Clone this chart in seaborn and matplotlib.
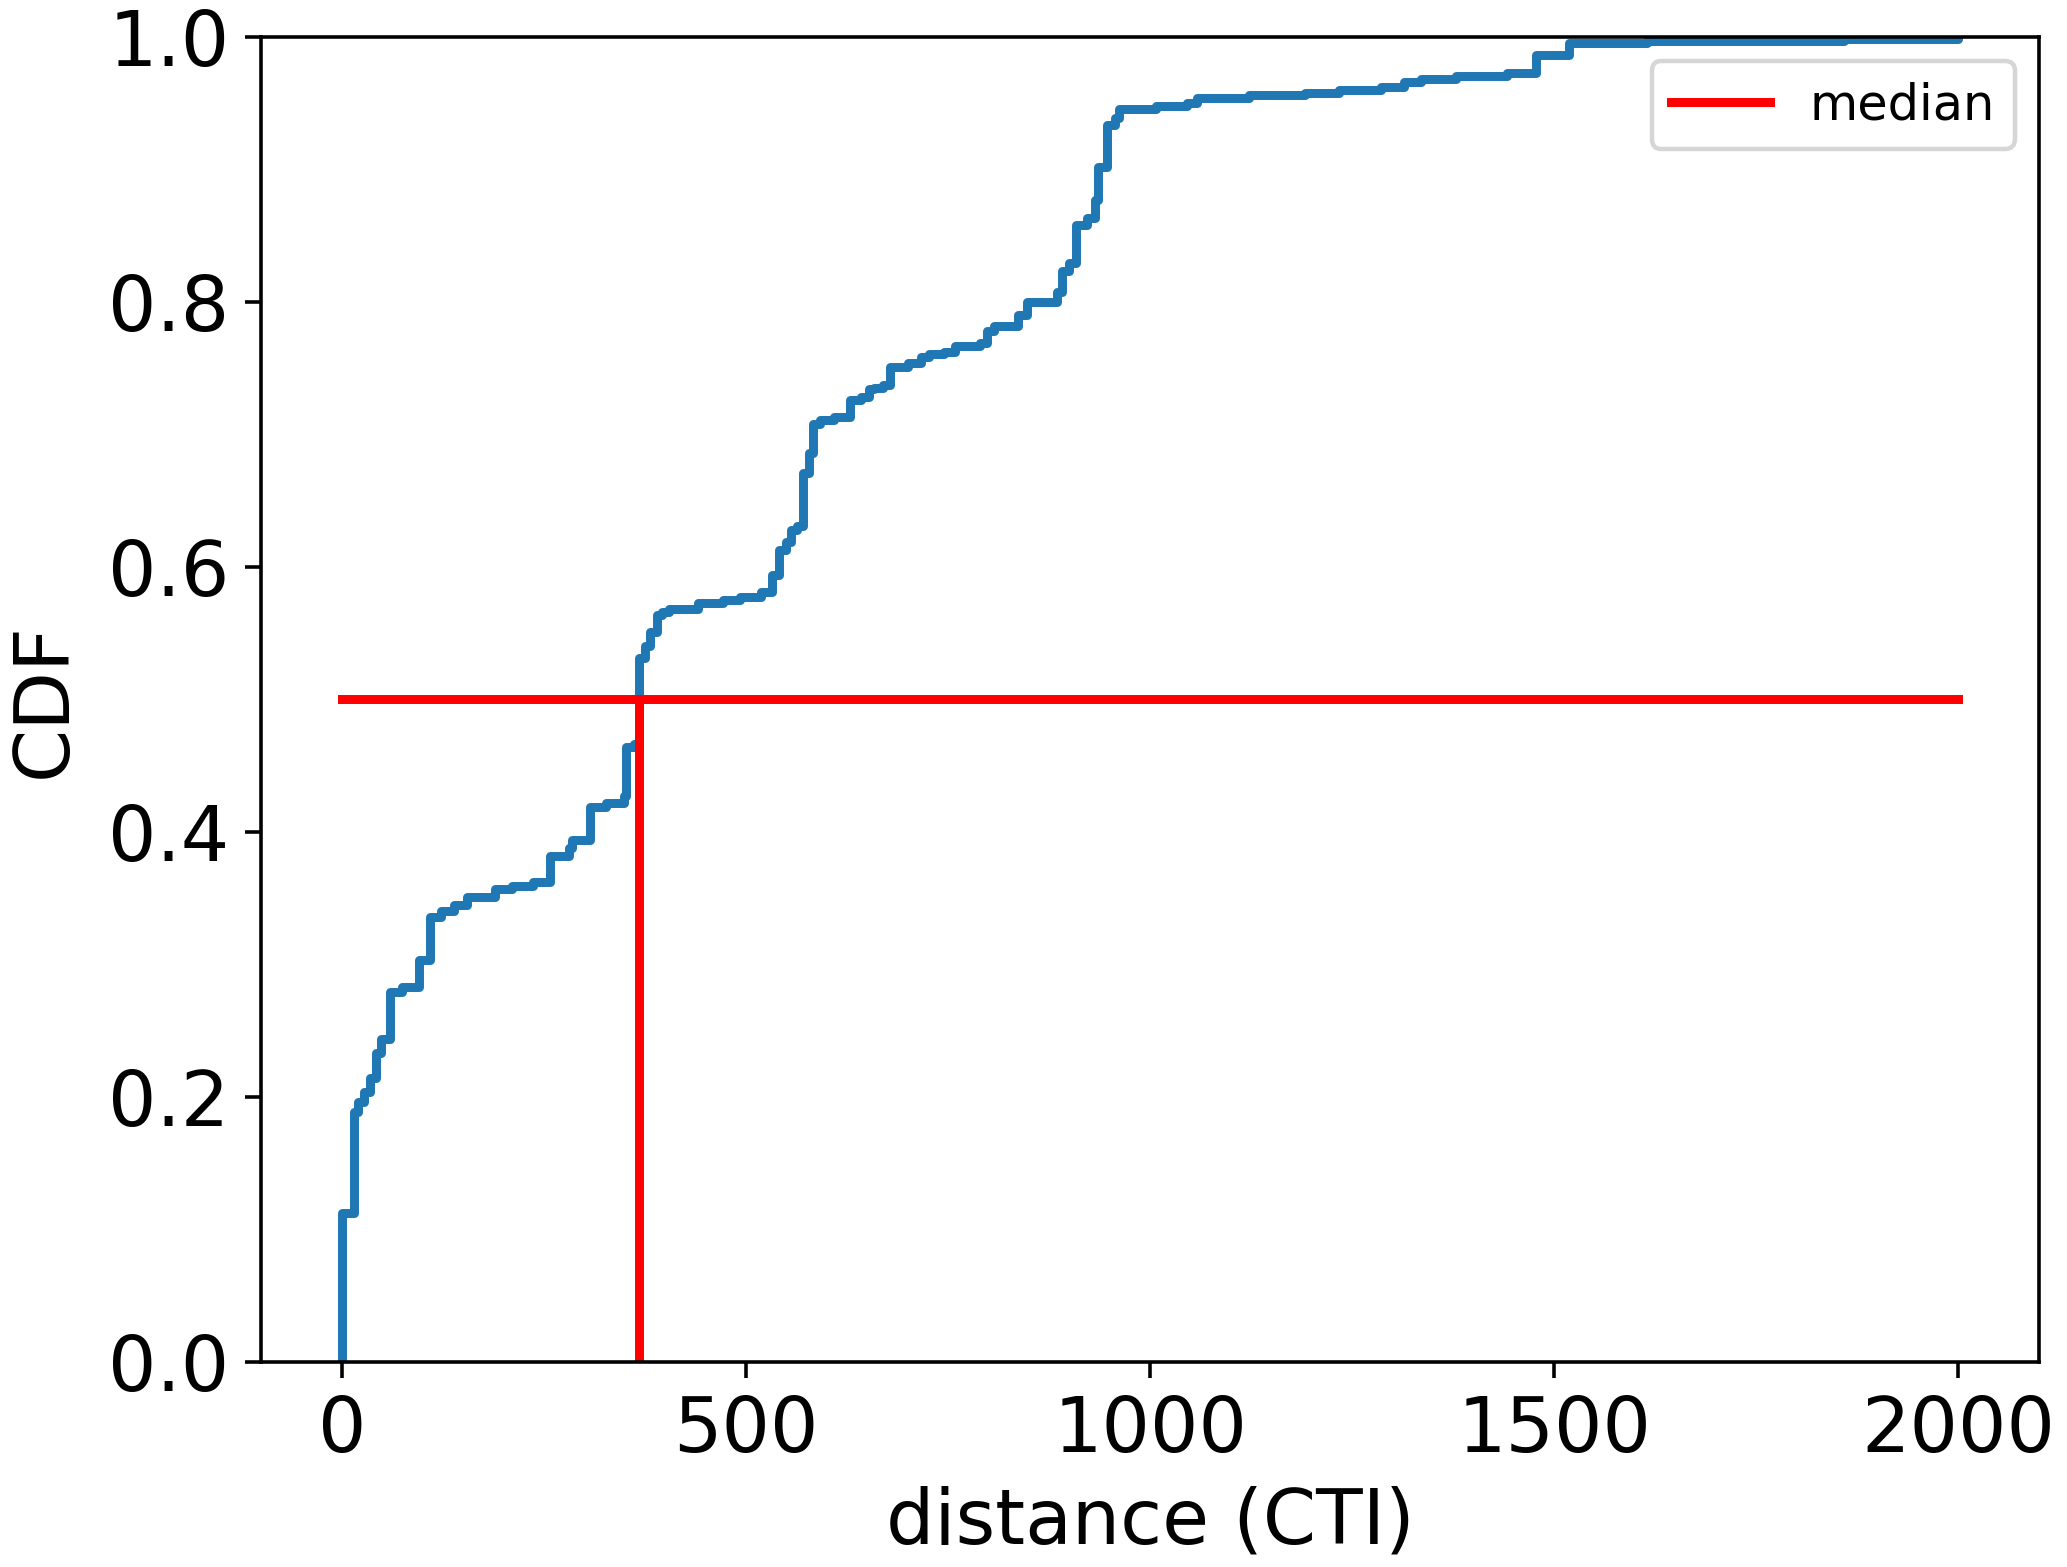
import numpy as np
import pandas as pd
import matplotlib
matplotlib.use('Agg')
import matplotlib.pyplot as plt
import seaborn as sns

# CDF breakpoints (distance in CTI, cdf after each step)
distance = [0, 0, 15.5, 19.6, 27, 35, 42.7, 48.5, 60, 74.5, 95, 109.5, 122, 139,
            155, 190, 210, 237, 258, 281, 285, 307, 327, 349, 352, 361, 367, 375,
            381, 390, 396, 405, 440, 472, 493, 518, 532, 541, 549, 555, 563, 570,
            578, 583, 592, 609, 628, 642, 652, 658, 670, 678, 700, 716, 726, 745,
            759, 790, 798, 807, 837, 847, 885, 891, 900, 908, 922, 932, 936, 946,
            957, 961, 1007, 1046, 1058, 1122, 1192, 1234, 1285, 1314, 1335, 1378,
            1441, 1477, 1518, 1615, 1858, 2000]
cdf = [0.0, 0.1125, 0.189, 0.196, 0.204, 0.214, 0.233, 0.244, 0.279, 0.283, 0.303,
       0.336, 0.340, 0.345, 0.351, 0.357, 0.359, 0.362, 0.382, 0.388, 0.394, 0.419,
       0.422, 0.427, 0.464, 0.466, 0.531, 0.540, 0.551, 0.5636, 0.566, 0.568, 0.573,
       0.575, 0.577, 0.581, 0.594, 0.6126, 0.619, 0.628, 0.631, 0.671, 0.686, 0.708,
       0.711, 0.713, 0.726, 0.728, 0.734, 0.735, 0.737, 0.751, 0.754, 0.758, 0.761,
       0.762, 0.767, 0.769, 0.778, 0.782, 0.790, 0.800, 0.8075, 0.8235, 0.8295,
       0.858, 0.863, 0.877, 0.9015, 0.9335, 0.9385, 0.9453, 0.948, 0.950, 0.9536,
       0.956, 0.9574, 0.960, 0.962, 0.966, 0.968, 0.9705, 0.973, 0.9863, 0.995,
       0.997, 0.998, 1.0]

median_x = 367
x_range = [0, 2000]

df = pd.DataFrame({'distance': distance, 'cdf': cdf})

fig, ax = plt.subplots(figsize=(6.4, 4.852), dpi=323)
fig.subplots_adjust(left=0.1263, right=0.9865, top=0.9764, bottom=0.1308)

# CDF step curve
sns.lineplot(data=df, x='distance', y='cdf', drawstyle='steps-post',
             estimator=None, color='#1f77b4', linewidth=2, ax=ax)

# median lines
ax.plot(x_range, [0.5, 0.5], color='red', linewidth=2, label='median')
ax.plot([median_x, median_x], [0, 0.5], color='red', linewidth=2)

ax.set_xlim(-100, 2100)
ax.set_ylim(0, 1)
ax.set_xticks([0, 500, 1000, 1500, 2000])
ax.set_yticks([0.0, 0.2, 0.4, 0.6, 0.8, 1.0])
ax.tick_params(labelsize=17)
ax.set_xlabel('distance (CTI)', fontsize=17)
ax.set_ylabel('CDF', fontsize=17, labelpad=6)
ax.legend(loc='upper right', fontsize=11)

plt.savefig('out.png', dpi=323)
